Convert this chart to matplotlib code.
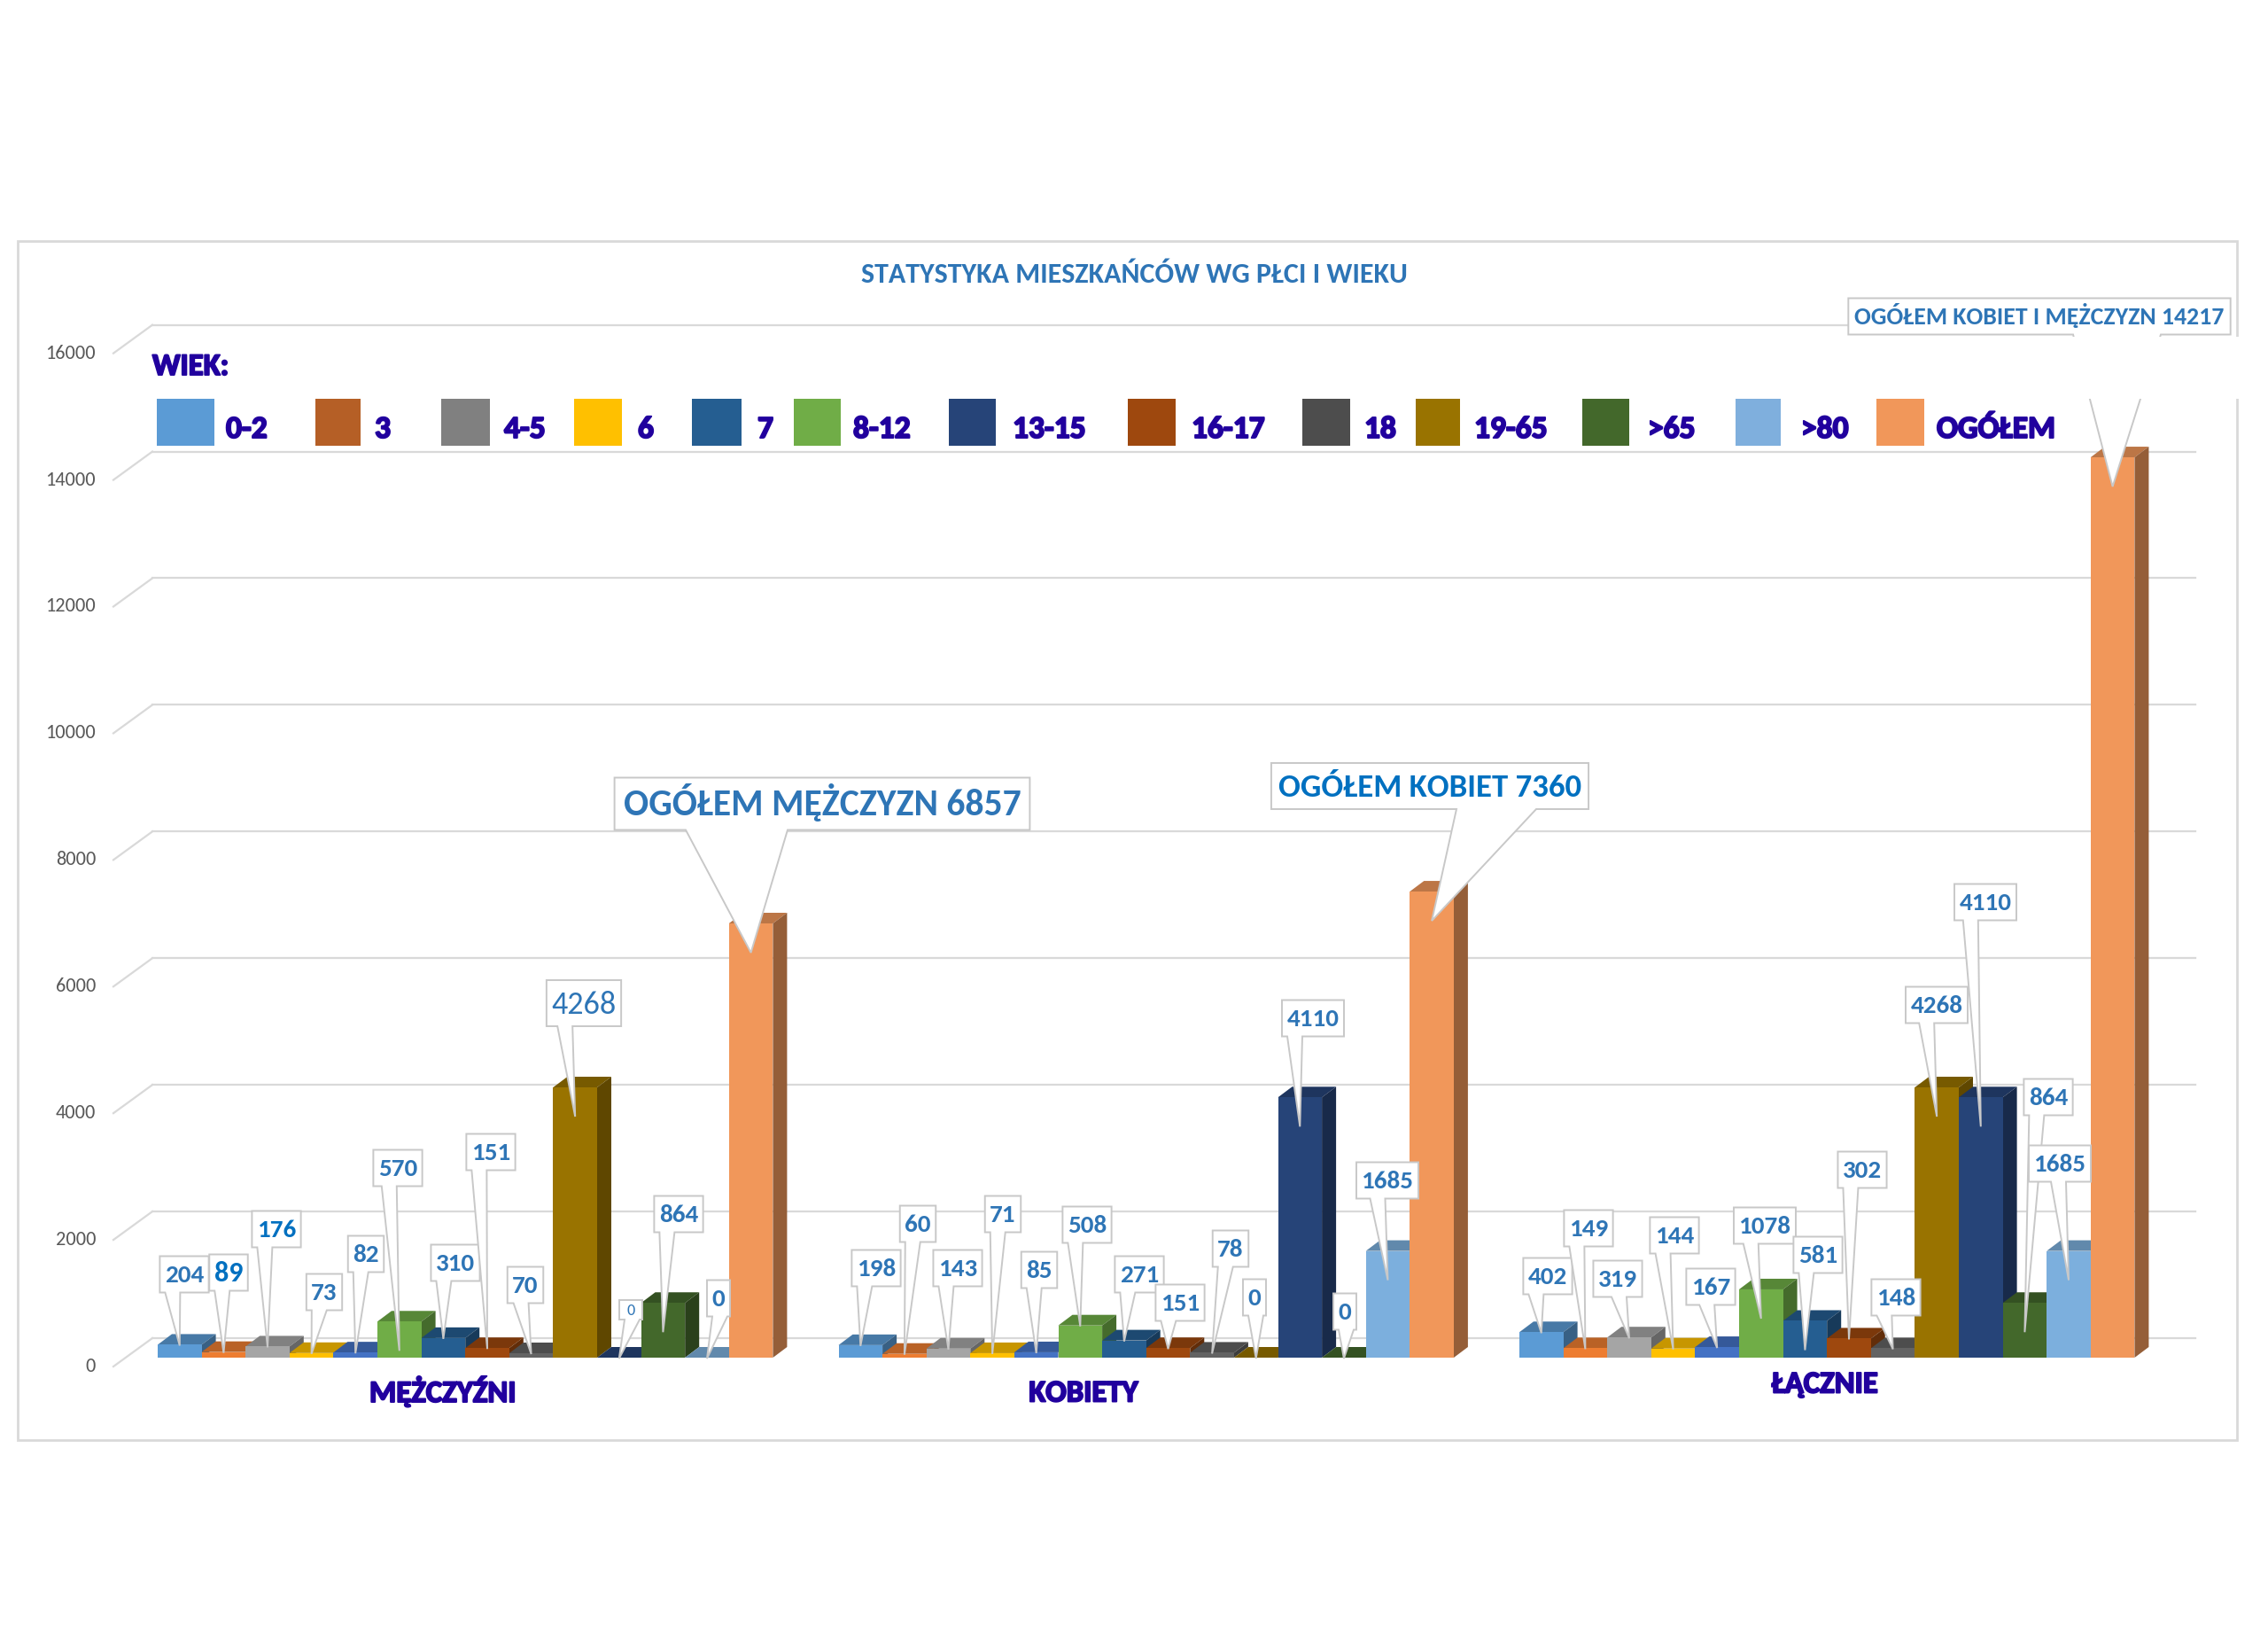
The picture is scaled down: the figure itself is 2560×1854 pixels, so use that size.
import matplotlib
matplotlib.use("Agg")
import matplotlib.pyplot as plt
from matplotlib.patches import Polygon, Rectangle
from matplotlib import font_manager
from matplotlib import patheffects
from matplotlib.colors import to_rgb

# ---------------- dane ----------------
groups = ["MĘŻCZYŹNI", "KOBIETY", "ŁĄCZNIE"]
series = ["0-2", "3", "4-5", "6", "7", "8-12", "13-15", "16-17", "18",
          "19-65", "19-65 K", ">65", ">80", "OGÓŁEM"]
men = [204, 89, 176, 73, 82, 570, 310, 151, 70, 4268, 0, 864, 0, 6857]
women = [198, 60, 143, 71, 85, 508, 271, 151, 78, 0, 4110, 0, 1685, 7360]
total = [402, 149, 319, 144, 167, 1078, 581, 302, 148, 4268, 4110, 864, 1685, 14217]
bar_colors = ["#5B9BD5", "#ED7D31", "#A5A5A5", "#FFC000", "#4472C4", "#70AD47",
              "#255E91", "#9E480E", "#636363", "#997300", "#264478", "#43682B",
              "#7CAFDD", "#F1975A"]

legend_labels = ["0-2", "3", "4-5", "6", "7", "8-12", "13-15", "16-17", "18",
                 "19-65", ">65", ">80", "OGÓŁEM"]
legend_colors = ["#5B9BD5", "#B55F26", "#808080", "#FFC000", "#255E91", "#70AD47",
                 "#264478", "#9E480E", "#4D4D4D", "#997300", "#43682B", "#7FAFDD",
                 "#F1975A"]
yticks = list(range(0, 16001, 2000))
big_texts = ["OGÓŁEM MĘŻCZYZN", "OGÓŁEM KOBIET", "OGÓŁEM KOBIET I MĘŻCZYZN"]

# ---------------- geometria (piksele) ----------------
W, H = 2560, 1854
X0, BW = 178.0, 49.6          # lewa krawedz pierwszego slupka, szerokosc slupka
FLOOR, K = 1532.0, 0.07146    # podstawa slupkow, piksele na jednostke
GROUP_STEP = 768.5 / BW
DX, DY = 16.0, 12.0           # glebokosc 3D

def pick_font(names):
    for n in names:
        try:
            font_manager.findfont(font_manager.FontProperties(family=n),
                                  fallback_to_default=False)
            return n
        except Exception:
            continue
    return "DejaVu Sans"

FONT = pick_font(["Carlito", "Lato", "Open Sans"])
plt.rcParams["font.family"] = [FONT, "DejaVu Sans"]

def shade(c, f):
    r, g, b = to_rgb(c)
    return (r * f, g * f, b * f)

fig = plt.figure(figsize=(W / 100, H / 100), dpi=100)
fig.patch.set_facecolor("white")

# os z wartosciami (slupki)
ax = fig.add_axes([0, 0, 1, 1])
ax.set_xlim(-X0 / BW, (W - X0) / BW)
ax.set_ylim(-(H - FLOOR) / K, FLOOR / K)
ax.axis("off")

# warstwa opisow w pikselach
ov = fig.add_axes([0, 0, 1, 1], zorder=5)
ov.set_xlim(0, W)
ov.set_ylim(H, 0)
ov.axis("off")
ov.patch.set_alpha(0)

def to_px(x, v):
    return X0 + x * BW, FLOOR - v * K

# ramka wykresu
ov.add_patch(Rectangle((20, 272), 2505, 1353, fill=False, ec="#D9D9D9", lw=2, zorder=0))

# siatka (tylna sciana + lewa sciana)
xg0, xg1, xs0 = (172 - X0) / BW, (2478 - X0) / BW, (128 - X0) / BW
for v in yticks:
    yb = v + 22 / K
    ax.plot([xg0, xg1], [yb, yb], color="#D9D9D9", lw=1.6, zorder=1)
    ax.plot([xg0, xs0], [yb, yb - 32 / K], color="#D9D9D9", lw=1.6, zorder=1)
    ov.text(108, FLOOR - 22 - v * K + 32, str(v), ha="right", va="center",
            fontsize=16, color="#595959")

# slupki 3D
ddx, ddy = DX / BW, DY / K
data = [men, women, total]
for j, name in enumerate(series):
    xs = [g * GROUP_STEP + j + 0.5 for g in range(len(groups))]
    vals = [data[g][j] for g in range(len(groups))]
    z = 2 + j * 0.1
    ax.bar(xs, vals, width=1.0, color=bar_colors[j], zorder=z + 0.05, label=name)
    for xc, v in zip(xs, vals):
        x0b, x1b = xc - 0.5, xc + 0.5
        ax.add_patch(Polygon([(x0b, v), (x1b, v), (x1b + ddx, v + ddy), (x0b + ddx, v + ddy)],
                             closed=True, fc=shade(bar_colors[j], 0.78), ec="none", zorder=z))
        ax.add_patch(Polygon([(x1b, 0), (x1b, v), (x1b + ddx, v + ddy), (x1b + ddx, ddy)],
                             closed=True, fc=shade(bar_colors[j], 0.62), ec="none", zorder=z))

# ---------------- etykiety danych (objasnienia) ----------------
box_centers = [
    [(208, 1438), (258, 1436), (312, 1387), (366, 1458), (413, 1415), (449, 1318), (514, 1425),
     (554, 1300), (593, 1450), (659, 1132), (712, 1478), (766, 1370), (811, 1465), (928, 907)],
    [(989, 1431), (1036, 1381), (1081, 1431), (1132, 1370), (1173, 1433), (1227, 1382), (1286, 1438),
     (1332, 1470), (1389, 1409), (1416, 1464), (1482, 1149), (1518, 1480), (1566, 1332), (1614, 887)],
    [(1747, 1440), (1793, 1386), (1826, 1443), (1890, 1394), (1931, 1452), (1992, 1383), (2052, 1416),
     (2102, 1320), (2140, 1464), (2186, 1134), (2241, 1018), (2312, 1238), (2325, 1313), (2302, 357)],
]
special = {
    (0, 1): dict(size=23, color="#0070C0"),
    (0, 2): dict(color="#0070C0"),
    (0, 9): dict(size=26, weight="normal", h=52),
    (0, 10): dict(size=13, weight="normal", h=22, pad=8),
    (0, 13): dict(size=30, h=59, base=(774, 889), pad=20),
    (1, 13): dict(size=26.5, h=52, color="#0070C0", base=(1644, 1734), pad=16),
    (2, 13): dict(size=20, h=41, base=(2340, 2439), pad=14),
}

renderer = fig.canvas.get_renderer()
zc = 20
for g in range(len(groups)):
    for j in range(len(series)):
        v = data[g][j]
        bx, top = to_px(g * GROUP_STEP + j + 0.5, v)
        tip = (bx, top + 33 if FLOOR - top > 37 else top + 1)
        st = dict(size=21, weight="bold", color="#2E75B6", h=41, base=None, pad=11)
        st.update(special.get((g, j), {}))
        label = str(v) if j < len(series) - 1 else f"{big_texts[g]} {v}"
        cx, cy = box_centers[g][j]
        cap = 0.64 * st["size"] * 100 / 72
        t = ov.text(cx, cy + cap / 2, label, ha="center", va="baseline",
                    fontsize=st["size"], fontweight=st["weight"], color=st["color"],
                    zorder=zc + 1)
        tw = t.get_window_extent(renderer).width
        w = max(tw + st["pad"], 26)
        L, R = cx - w / 2, cx + w / 2
        T, B = cy - st["h"] / 2, cy + st["h"] / 2
        if st["base"] is None:
            b0 = max(L + 6, min(tip[0] - 20, R - 23))
            b1 = b0 + 17
        else:
            b0, b1 = st["base"]
        ov.add_patch(Polygon([(L, T), (R, T), (R, B), (b1, B), tip, (b0, B), (L, B)],
                             closed=True, fc="white", ec="#C8C8C8", lw=1.4, zorder=zc))
        zc += 2

# biale pole legendy zaslania fragment objasnienia
ov.add_patch(Rectangle((2330, 380), 200, 70, fc="white", ec="none", zorder=zc + 5))

# ---------------- tytul i legenda ----------------
ov.text(1280, 310, "STATYSTYKA MIESZKAŃCÓW WG PŁCI I WIEKU", ha="center", va="center",
        fontsize=23, fontweight="bold", color="#2E75B6", zorder=zc + 6)

INDIGO = "#21009E"
heavy = [patheffects.withStroke(linewidth=1.4, foreground=INDIGO)]
ov.text(172, 423, "WIEK:", ha="left", va="baseline", fontsize=25, fontweight="bold",
        color=INDIGO, zorder=zc + 6, path_effects=heavy)
patch_x = [(177, 242), (356, 407), (498, 553), (648, 702), (781, 837), (896, 949), (1071, 1124),
           (1273, 1327), (1470, 1524), (1598, 1648), (1786, 1839), (1959, 2010), (2118, 2172)]
text_x = [255, 423, 569, 720, 855, 963, 1143, 1345, 1540, 1664, 1860, 2033, 2186]
for lab, col, (p0, p1), tx in zip(legend_labels, legend_colors, patch_x, text_x):
    ov.add_patch(Rectangle((p0, 450), p1 - p0, 53, fc=col, ec="none", zorder=zc + 6))
    ov.text(tx, 494, lab, ha="left", va="baseline", fontsize=25.5, fontweight="bold",
            color=INDIGO, zorder=zc + 6, path_effects=heavy)

# etykiety kategorii
cat_pos = [(500, 1570), (1223, 1572), (2060, 1562)]
for name, (px, py) in zip(groups, cat_pos):
    ov.text(px, py, name, ha="center", va="center", fontsize=25, fontweight="bold",
            color=INDIGO, zorder=zc + 6, path_effects=heavy)

fig.savefig("out.png", dpi=100, facecolor="white")
